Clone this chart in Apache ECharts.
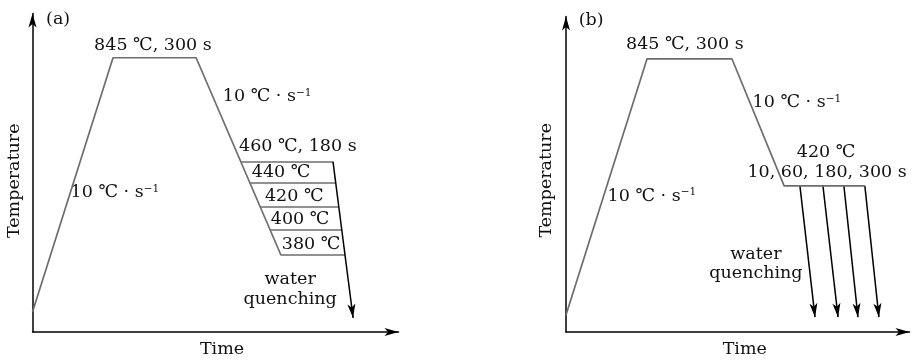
<!DOCTYPE html>
<html>
<head>
<meta charset="utf-8">
<script src="https://cdn.jsdelivr.net/npm/echarts@6/dist/echarts.min.js"></script>
<style>
html,body{margin:0;padding:0;background:#fff;}
#chart{width:917px;height:363px;}
</style>
</head>
<body>
<div id="chart"></div>
<script>
// ---- Panel (a): schematic time / temperature (0-100 schematic units) ----
const aPathTime = [0, 22.0, 44.7, 67.9];
const aPathTemp = [6.3, 86.1, 86.1, 24.1];
const aHoldTemp = [53.5, 46.9, 39.4, 32.2, 24.1];
const aHoldStart = [56.9, 59.3, 62.2, 64.9, 67.9];
const aHoldEnd = [82.1, 82.8, 83.7, 84.5, 85.4];
const aQuenchTime = [82.1, 87.6];
const aQuenchTemp = [53.5, 4.4];
const aLabels = ['(a)', '845 ℃, 300 s', '10 ℃ · s{sup|−1}', '460 ℃, 180 s', '440 ℃', '420 ℃', '400 ℃', '380 ℃', 'water', 'quenching', '10 ℃ · s{sup|−1}'];
const aLabelTime = [7.0, 32.9, 64.1, 72.5, 67.9, 71.5, 73.1, 76.1, 70.4, 70.4, 22.5];
const aLabelTemp = [98.0, 90.1, 73.9, 58.2, 50.1, 42.6, 35.4, 27.5, 16.6, 10.3, 43.8];

// ---- Panel (b) ----
const bPathTime = [0, 23.6, 48.3, 63.5, 87.0];
const bPathTemp = [5.4, 86.6, 86.6, 46.3, 46.3];
const bQuenchStart = [68.1, 74.8, 80.9, 87.0];
const bQuenchEnd = [72.5, 79.2, 85.0, 91.1];
const bQuenchTemp = [46.3, 4.7];
const bLabels = ['(b)', '845 ℃, 300 s', '10 ℃ · s{sup|−1}', '420 ℃', '10, 60, 180, 300 s', 'water', 'quenching', '10 ℃ · s{sup|−1}'];
const bLabelTime = [7.3, 34.6, 67.2, 75.7, 76.0, 55.3, 55.3, 25.0];
const bLabelTemp = [98.9, 91.0, 72.8, 57.0, 50.7, 24.6, 18.6, 43.1];

const axisTitles = ['Time', 'Temperature'];

const FONT = 'DejaVu Serif';
const TXT = '#111';
const GREY = '#6d6d6d';

function zip(xs, ys) { return xs.map((x, i) => [x, ys[i]]); }

function axisLineCfg() {
  return {
    show: true, onZero: false,
    symbol: ['none', 'arrow'], symbolSize: [6, 14],
    lineStyle: { color: '#000', width: 1.5 }
  };
}
function xAx(gi, pad) {
  return {
    gridIndex: gi, type: 'value', min: 0, max: 100,
    axisLine: axisLineCfg(), axisTick: { show: false }, axisLabel: { show: false }, splitLine: { show: false },
    name: axisTitles[0], nameLocation: 'middle', nameGap: 8,
    nameTextStyle: { fontFamily: FONT, fontSize: 17.5, color: TXT, padding: [0, 0, 0, pad] }
  };
}
function yAx(gi, gap, pad) {
  return {
    gridIndex: gi, type: 'value', min: 0, max: 100,
    axisLine: axisLineCfg(), axisTick: { show: false }, axisLabel: { show: false }, splitLine: { show: false },
    name: axisTitles[1], nameLocation: 'middle', nameGap: gap,
    nameTextStyle: { fontFamily: FONT, fontSize: 17.5, color: TXT, padding: [0, pad, 0, 0] }
  };
}

function labelSeries(gi, texts, xs, ys) {
  return {
    type: 'scatter', xAxisIndex: gi, yAxisIndex: gi,
    symbolSize: 0, silent: true,
    itemStyle: { opacity: 1 },
    data: xs.map((x, i) => ({ value: [x, ys[i]], name: texts[i] })),
    label: {
      show: true, position: 'inside', color: TXT, opacity: 1,
      fontFamily: FONT, fontSize: 17.5,
      formatter: p => p.name,
      rich: {
        sup: { fontFamily: FONT, fontSize: 10.5, color: TXT, verticalAlign: 'top', lineHeight: 10, padding: [0, 0, 8, 0] }
      }
    }
  };
}

const series = [
  { type: 'line', xAxisIndex: 0, yAxisIndex: 0, data: zip(aPathTime, aPathTemp), symbol: 'none',
    lineStyle: { color: GREY, width: 1.7 } },
  { type: 'lines', coordinateSystem: 'cartesian2d', xAxisIndex: 0, yAxisIndex: 0,
    data: aHoldTemp.map((t, i) => ({ coords: [[aHoldStart[i], t], [aHoldEnd[i], t]] })),
    lineStyle: { color: GREY, width: 1.7, opacity: 1 } },
  { type: 'lines', coordinateSystem: 'cartesian2d', xAxisIndex: 0, yAxisIndex: 0,
    symbol: ['none', 'arrow'], symbolSize: [0, [6, 14]],
    data: [{ coords: zip(aQuenchTime, aQuenchTemp) }],
    lineStyle: { color: '#000', width: 1.5, opacity: 1 } },
  labelSeries(0, aLabels, aLabelTime, aLabelTemp),

  { type: 'line', xAxisIndex: 1, yAxisIndex: 1, data: zip(bPathTime, bPathTemp), symbol: 'none',
    lineStyle: { color: GREY, width: 1.7 } },
  { type: 'lines', coordinateSystem: 'cartesian2d', xAxisIndex: 1, yAxisIndex: 1,
    symbol: ['none', 'arrow'], symbolSize: [0, [6, 14]],
    data: bQuenchStart.map((s, i) => ({ coords: [[s, bQuenchTemp[0]], [bQuenchEnd[i], bQuenchTemp[1]]] })),
    lineStyle: { color: '#000', width: 1.5, opacity: 1 } },
  labelSeries(1, bLabels, bLabelTime, bLabelTemp)
];

const chart = echarts.init(document.getElementById('chart'), null, { renderer: 'canvas' });
chart.setOption({
  animation: false,
  backgroundColor: '#fff',
  grid: [
    { left: 32.5, top: 13.5, width: 366, height: 319.5 },
    { left: 566, top: 16.5, width: 343.5, height: 317.5 }
  ],
  xAxis: [xAx(0, 13), xAx(1, 14)],
  yAxis: [yAx(0, 9, 16), yAx(1, 10.5, 12)],
  series: series
});
</script>
</body>
</html>
